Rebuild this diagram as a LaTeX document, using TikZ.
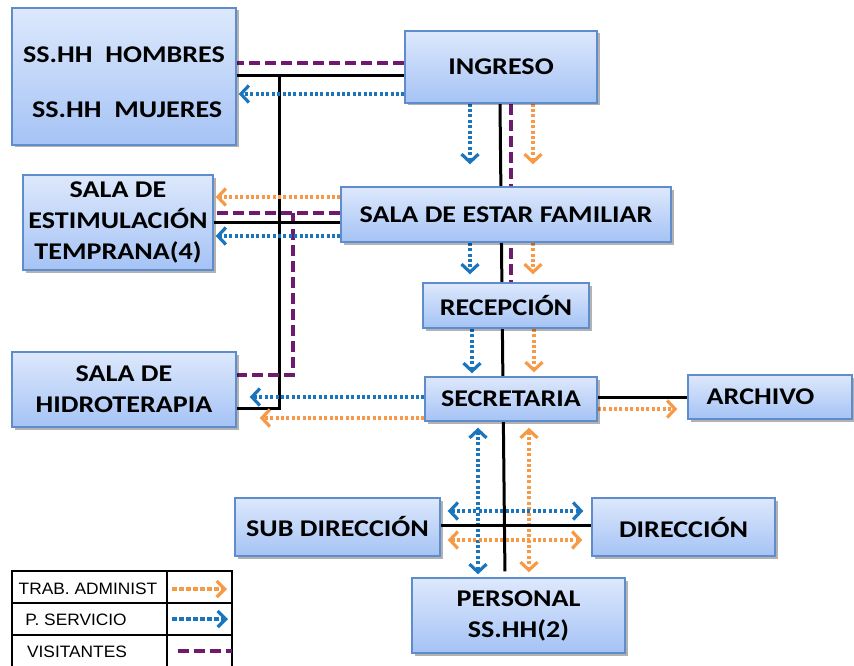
\documentclass[tikz,border=0pt]{standalone}
\usepackage{fontspec}
\setmainfont{Carlito}[FakeStretch=1.17]
\newfontfamily\legfont{Liberation Sans}[FakeStretch=1.05]
\usetikzlibrary{arrows.meta,shadows,backgrounds}
\definecolor{admc}{HTML}{F79A48}
\definecolor{srvc}{HTML}{1B75BC}
\definecolor{visc}{HTML}{6E1B6E}
\definecolor{boxtop}{HTML}{DDE8FC}
\definecolor{boxbot}{HTML}{A5C3F5}
\definecolor{boxline}{HTML}{5F8CCB}
\tikzset{
  chev/.tip={Straight Barb[length=8pt,width=17pt,line width=3.2pt]},
  lchev/.tip={Straight Barb[length=8pt,width=16pt,line width=3.2pt]},
  box/.style={draw=boxline, line width=1.4pt, top color=boxtop, bottom color=boxbot,
    drop shadow={shadow xshift=2.5pt, shadow yshift=-2.5pt, fill=black, opacity=0.3},
    inner sep=0pt, align=center, font=\bfseries\fontsize{24}{31}\selectfont},
  dotline/.style={line width=3.5pt, dash pattern=on 3pt off 2.4pt},
  adm/.style={dotline, draw=admc, -chev},
  srv/.style={dotline, draw=srvc, -chev},
  admb/.style={dotline, draw=admc, chev-chev},
  srvb/.style={dotline, draw=srvc, chev-chev},
  vis/.style={draw=visc, line width=4.5pt, dash pattern=on 11pt off 5pt},
  blk/.style={draw=black, line width=3pt},
  legtxt/.style={font=\legfont\fontsize{16.5}{18}\selectfont, inner sep=0pt},
  legarr/.style={line width=3.6pt, dash pattern=on 4.5pt off 2.5pt, -lchev},
}
\begin{document}
\begin{tikzpicture}[x=1pt,y=-1pt]
\useasboundingbox (0,0) rectangle (854,666);
% boxes
\node[box, minimum width=224pt, minimum height=137pt] (ss) at (124,76.5) {\rule{0pt}{28pt}SS.HH~~HOMBRES\\[24pt]~SS.HH~~MUJERES};
\node[box, minimum width=192pt, minimum height=72pt] (ing) at (501,67) {INGRESO};
\node[box, minimum width=330pt, minimum height=55pt] (est) at (506,214.5) {SALA DE ESTAR FAMILIAR};
\node[box, minimum width=190pt, minimum height=95pt] (estim) at (118,222.5) {SALA DE\\ESTIMULACIÓN\\TEMPRANA(4)};
\node[box, minimum width=224pt, minimum height=75pt] (hidro) at (124,389.5) {SALA DE\\HIDROTERAPIA};
\node[box, minimum width=166pt, minimum height=45pt] (rec) at (506,305.5) {RECEPCIÓN};
\node[box, minimum width=172pt, minimum height=44pt] (sec) at (511,399) {SECRETARIA};
\node[box, minimum width=164pt, minimum height=44pt] (arch) at (770,397) {ARCHIVO~~~};
\node[box, minimum width=205pt, minimum height=58pt] (sub) at (337.5,527) {SUB DIRECCIÓN};
\node[box, minimum width=183pt, minimum height=58pt] (dir) at (683.5,527) {DIRECCIÓN};
\node[box, minimum width=213pt, minimum height=75pt] (pers) at (518.5,615.5) {PERSONAL\\SS.HH(2)};
\coordinate (j1) at (279,76);
\coordinate (j2) at (279,408);
\coordinate (j3) at (293,213);
\coordinate (j4) at (293,375);
\begin{scope}[on background layer]
% top
\draw[vis] (ing.west |- 0,63) -- (ss.east |- 0,63);
\draw[blk] (ing.west |- 0,76) -- (ss.east |- 0,76);
\draw[blk] (j1) -- (j2) -- (hidro.east |- j2);
\draw[srv, shorten >=2pt] (ing.west |- 0,94) -- (ss.east |- 0,94);
% estimulacion
\draw[adm, shorten >=2pt] (est.west |- 0,197) -- (estim.east |- 0,197);
\draw[vis] (est.west |- 0,213) -- (estim.east |- 0,213);
\draw[vis] (j3) -- (j4) -- (hidro.east |- j4);
\draw[blk] (est.west |- 0,222) -- (estim.east |- 0,222);
\draw[srv, shorten >=2pt] (est.west |- 0,236) -- (estim.east |- 0,236);
% hidroterapia
\draw[srv, shorten >=13pt] (sec.west |- 0,397) -- (hidro.east |- 0,397);
\draw[adm, shorten >=23pt] (sec.west |- 0,418) -- (hidro.east |- 0,418);
% central column
\draw[blk, shorten >=6pt] (ing.south -| 500,0) -- (pers.north -| 505,0);
\draw[vis] (ing.south -| 511,0) -- (rec.north -| 511,0);
\draw[srv, shorten >=22pt] (ing.south -| 470,0) -- (est.north -| 470,0);
\draw[adm, shorten >=22pt] (ing.south -| 533,0) -- (est.north -| 533,0);
\draw[srv, shorten >=8pt] (est.south -| 470,0) -- (rec.north -| 470,0);
\draw[adm, shorten >=8pt] (est.south -| 533,0) -- (rec.north -| 533,0);
\draw[srv, shorten >=3pt] (rec.south -| 472,0) -- (sec.north -| 472,0);
\draw[adm, shorten >=4pt] (rec.south -| 534,0) -- (sec.north -| 534,0);
% archivo
\draw[blk] (sec.east |- 0,397) -- (arch.west |- 0,397);
\draw[adm, shorten >=10pt] (sec.east |- 0,409) -- (arch.west |- 0,409);
% bottom cross
\draw[srvb, shorten <=6pt, shorten >=3pt] (sec.south -| 478,0) -- (pers.north -| 478,0);
\draw[admb, shorten <=6pt, shorten >=5pt] (sec.south -| 529,0) -- (pers.north -| 529,0);
\draw[srvb, shorten <=7pt, shorten >=8pt] (sub.east |- 0,511) -- (dir.west |- 0,511);
\draw[blk] (sub.east |- 0,525) -- (dir.west |- 0,525);
\draw[admb, shorten <=7pt, shorten >=9pt] (sub.east |- 0,540) -- (dir.west |- 0,540);
\end{scope}
% legend
\draw[line width=2.2pt] (12,571) rectangle (232,672);
\draw[line width=2.2pt] (12,603) -- (232,603) (12,635) -- (232,635) (167,571) -- (167,672);
\node[legtxt] (l1) at (88,589) {TRAB. ADMINIST};
\node[legtxt] (l2) at (76,620) {P. SERVICIO};
\node[legtxt] (l3) at (77,652) {VISITANTES};
\coordinate (a1s) at (172,589); \coordinate (a1e) at (227,589);
\coordinate (a2s) at (172,619); \coordinate (a2e) at (228,619);
\coordinate (a3s) at (178,651); \coordinate (a3e) at (232,651);
\draw[legarr, draw=admc] (a1s) -- (a1e);
\draw[legarr, draw=srvc] (a2s) -- (a2e);
\draw[vis] (a3s) -- (a3e);
\end{tikzpicture}
\end{document}
